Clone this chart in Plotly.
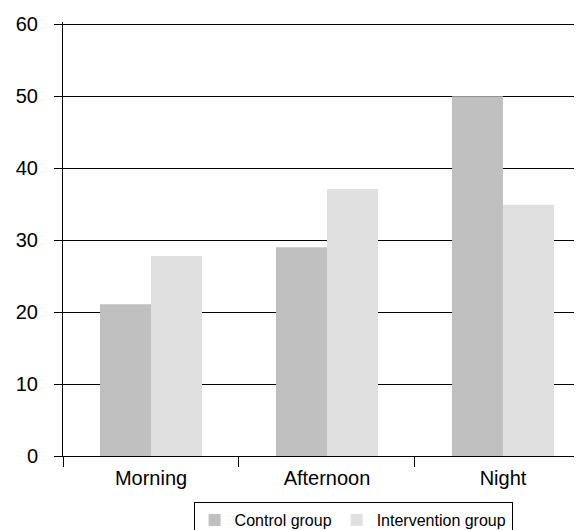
import plotly.graph_objects as go

categories = ["Morning", "Afternoon", "Night"]
control = [21.1, 29.0, 50.0]
intervention = [27.8, 37.1, 34.9]
y_ticks = [0, 10, 20, 30, 40, 50, 60]

font = "Liberation Sans, Arial, sans-serif"

fig = go.Figure()
fig.add_bar(x=categories, y=control, name="Control group", marker=dict(color="#c0c0c0", line=dict(width=0)))
fig.add_bar(x=categories, y=intervention, name="Intervention group", marker=dict(color="#e0e0e0", line=dict(width=0)))

# page body has an 8px margin, so the figure is offset by 8px
fig.update_layout(
    width=574, height=522,
    margin=dict(l=55, r=0, t=14, b=74, autoexpand=False),
    paper_bgcolor="white", plot_bgcolor="white",
    barmode="group", bargap=0.42, bargroupgap=0,
    font=dict(family=font, size=20, color="black"),
    showlegend=True,
    legend=dict(orientation="h", x=0.559, xanchor="center", y=-0.106, yanchor="top",
                bordercolor="black", borderwidth=1, font=dict(size=16),
                itemwidth=30, tracegroupgap=0),
)
fig.update_xaxes(
    range=[-0.5, 2.449], showline=True, linecolor="black", linewidth=1,
    ticks="outside", tickson="boundaries", ticklen=10, tickcolor="black",
    showgrid=False, zeroline=False, tickfont=dict(size=20), automargin=False,
    ticklabelstandoff=4,
)
fig.update_yaxes(
    range=[0, 60.3], tickvals=y_ticks, showline=True, linecolor="black", linewidth=1,
    ticks="outside", ticklen=8, tickcolor="black",
    showgrid=True, gridcolor="black", gridwidth=1, zeroline=False,
    tickfont=dict(size=20), automargin=False, ticklabelstandoff=12,
)

fig.write_html("out.html")
